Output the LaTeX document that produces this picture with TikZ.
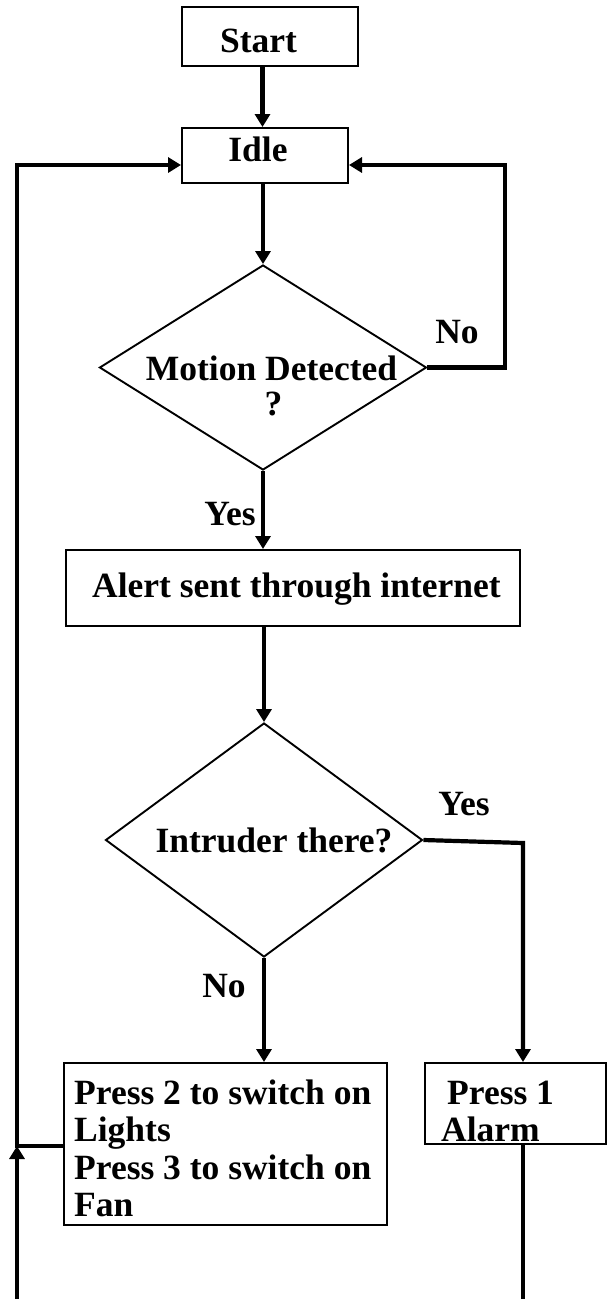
\documentclass[tikz,border=0pt]{standalone}
\usepackage{fontspec}
\setmainfont{Liberation Serif}
\usetikzlibrary{shapes.geometric,arrows.meta}

\begin{document}
\begin{tikzpicture}[x=1pt,y=-1pt,
  stepbox/.style={draw, line width=2pt, inner sep=0pt, rectangle},
  decision/.style={draw, diamond, line width=1.9pt, inner sep=0pt},
  txt/.style={font=\fontsize{35.5}{36}\selectfont\bfseries, inner sep=0pt, anchor=base},
  flow/.style={line width=4.2pt},
  arr/.style={flow, -{Triangle[length=13pt,width=15pt]}},
]
\useasboundingbox (0,0) rectangle (607,1299);

% shapes
\node[stepbox, minimum width=176pt, minimum height=59pt] (start) at (270,36.5) {};
\node[stepbox, minimum width=166pt, minimum height=55pt] (idle) at (265,155.5) {};
\node[decision, minimum width=327pt, minimum height=205pt] (motion) at (263,367.5) {};
\node[stepbox, minimum width=454pt, minimum height=76pt] (alert) at (293,588) {};
\node[decision, minimum width=317pt, minimum height=234pt] (intruder) at (264,840) {};
\node[stepbox, minimum width=323pt, minimum height=162pt] (press2) at (225.5,1144) {};
\node[stepbox, minimum width=181pt, minimum height=81pt] (press1) at (515.5,1103.5) {};

% texts
\node[txt] (tstart) at (258.6,52.7) {Start};
\node[txt] (tidle) at (258,161.7) {Idle};
\node[txt] (tmotion) at (271.5,380) {Motion Detected};
\node[txt] (tq) at (273.5,415) {?};
\node[txt, anchor=base west] (talert) at (92,597) {Alert sent through internet};
\node[txt] (tintruder) at (274,852) {Intruder there?};
\node[txt, anchor=base west] (tp2a) at (74,1104) {Press 2 to switch on};
\node[txt, anchor=base west] (tp2b) at (74,1141) {Lights};
\node[txt, anchor=base west] (tp2c) at (74,1179) {Press 3 to switch on};
\node[txt, anchor=base west] (tp2d) at (74,1216) {Fan};
\node[txt, anchor=base west] (tp1a) at (447,1104) {Press 1};
\node[txt, anchor=base west] (tp1b) at (441,1141) {Alarm};

% branch labels
\node[txt] (no1) at (457,343) {No};
\node[txt] (yes1) at (230,525) {Yes};
\node[txt] (yes2) at (464,815) {Yes};
\node[txt] (no2) at (224,997) {No};

% routing points
\coordinate (nr) at (505,165);
\coordinate (yr) at (523,843);
\coordinate (jl) at (17,1146);
\coordinate (tl) at (17,165);
\coordinate (bl) at (17,1299);
\coordinate (br) at (523,1299);

% connectors
\draw[arr] (start.south -| 262.5,0) -- (idle.north -| 262.5,0);
\draw[arr] (idle.south -| motion.north) -- (motion.north);
\draw[arr] (motion.east) -| (nr) -- (nr -| idle.east);
\draw[arr] (motion.south) -- (motion.south |- alert.north);
\draw[arr] (alert.south -| intruder.north) -- (intruder.north);
\draw[arr] (intruder.east) -- (yr) -- (yr |- press1.north);
\draw[arr] (intruder.south) -- (intruder.south |- press2.north);
\draw[arr] (press2.west |- jl) -- (jl) -- (tl) -- (tl -| idle.west);
\draw[arr] (bl) -- (jl);
\draw[flow] (press1.south -| br) -- (br);
\end{tikzpicture}
\end{document}
